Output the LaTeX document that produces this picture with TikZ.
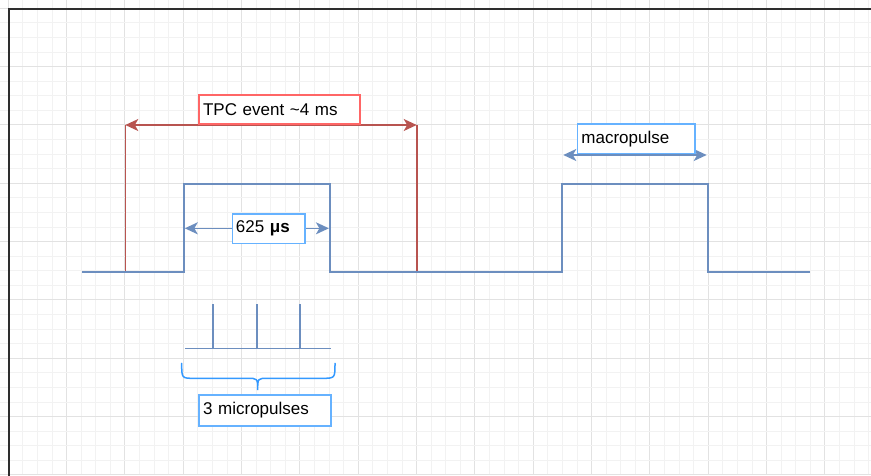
\documentclass[tikz,border=0pt]{standalone}
\usepackage{fontspec}
\setmainfont{Liberation Sans}
\usetikzlibrary{arrows.meta}
\definecolor{sigblue}{HTML}{6C8EBF}
\definecolor{tpcred}{HTML}{B85450}
\definecolor{boxred}{HTML}{FF6666}
\definecolor{boxblue}{HTML}{66B2FF}
\definecolor{braceblue}{HTML}{3399FF}
\definecolor{gridminor}{HTML}{F2F2F2}
\definecolor{gridmajor}{HTML}{E2E2E2}
\definecolor{framecol}{HTML}{2E2E2E}
\tikzset{
  minorline/.style={draw=gridminor, line width=0.9pt},
  majorline/.style={draw=gridmajor, line width=1pt},
  framestyle/.style={draw=framecol, line width=2.4pt},
  sig/.style={draw=sigblue, line width=2pt},
  thinsig/.style={draw=sigblue, line width=1.6pt},
  tpc/.style={draw=tpcred, line width=1.6pt},
  dbl/.style={{Stealth[length=13pt,width=12pt,inset=3.5pt]}-{Stealth[length=13pt,width=12pt,inset=3.5pt]}},
  labelbox/.style={rectangle, fill=white, line width=1.5pt, anchor=north west,
    inner xsep=4pt, inner ysep=0pt, align=left,
    font=\fontsize{17}{20}\selectfont},
  redbox/.style={labelbox, draw=boxred},
  bluebox/.style={labelbox, draw=boxblue},
  bracestyle/.style={draw=braceblue, line width=1.5pt, line cap=round}
}
\begin{document}
\begin{tikzpicture}[x=1pt,y=-1pt]
\useasboundingbox (0,0) rectangle (871,475);
\clip (0,0) rectangle (871,475);
\fill[white] (0,0) rectangle (871,475);
% grid
\foreach \i in {0,...,60} {
  \pgfmathsetmacro{\xx}{8.33+14.583*\i}
  \pgfmathtruncatemacro{\mm}{mod(\i,4)}
  \ifnum\mm=0
    \draw[majorline] (\xx,0) -- (\xx,475);
  \else
    \draw[minorline] (\xx,0) -- (\xx,475);
  \fi
}
\foreach \i in {0,...,33} {
  \pgfmathsetmacro{\yy}{8.33+14.583*\i}
  \pgfmathtruncatemacro{\mm}{mod(\i,4)}
  \ifnum\mm=0
    \draw[majorline] (0,\yy) -- (871,\yy);
  \else
    \draw[minorline] (0,\yy) -- (871,\yy);
  \fi
}
% frame
\coordinate (fa) at (9,490);
\coordinate (fb) at (9,9);
\coordinate (fc) at (890,9);
\draw[framestyle] (fa) -- (fb) -- (fc);

% TPC event lines
\coordinate (ta) at (125.3,271.7);
\coordinate (tb) at (125.3,125);
\coordinate (tc) at (416.7,125);
\coordinate (td) at (416.7,271.7);
\draw[tpc] (ta) -- (tb);
\draw[tpc] (td) -- (tc);
\draw[tpc, dbl, fill=tpcred] (tb) -- (tc);

% signal
\coordinate (s0) at (82,271.7);
\coordinate (r1b) at (184,271.7);
\coordinate (r1t) at (184,184.3);
\coordinate (f1t) at (329.7,184.3);
\coordinate (f1b) at (329.7,271.7);
\coordinate (r2b) at (562.3,271.7);
\coordinate (r2t) at (562.3,184.3);
\coordinate (f2t) at (708,184.3);
\coordinate (f2b) at (708,271.7);
\coordinate (s1) at (810,271.7);
\draw[sig] (s0) -- (r1b) -- (r1t) -- (f1t) -- (f1b) -- (r2b) -- (r2t) -- (f2t) -- (f2b) -- (s1);

% 625 us arrow
\coordinate (pa) at (184.8,228.3);
\coordinate (pb) at (328.9,228.3);
\draw[thinsig, dbl, fill=sigblue] (pa) -- (pb);

% macropulse arrow
\coordinate (ma) at (563.3,155);
\coordinate (mb) at (706.7,155);
\draw[thinsig, dbl, fill=sigblue] (ma) -- (mb);

% micropulses
\coordinate (m0) at (185,348.3);
\coordinate (m1) at (331,348.3);
\coordinate (u1) at (212.7,304);
\coordinate (v1) at (212.7,348.3);
\coordinate (u2) at (256.7,304);
\coordinate (v2) at (256.7,348.3);
\coordinate (u3) at (300,304);
\coordinate (v3) at (300,348.3);
\draw[thinsig] (m0) -- (m1);
\draw[thinsig] (u1) -- (v1);
\draw[thinsig] (u2) -- (v2);
\draw[thinsig] (u3) -- (v3);

% brace
\draw[bracestyle] (181.7,363.3) .. controls (181.7,378.3) .. (194,378.3) -- (247,378.3)
  .. controls (257.7,378.3) .. (257.7,390)
  .. controls (257.7,378.3) .. (268,378.3) -- (322,378.3)
  .. controls (335,378.3) .. (335,363.3);

% labels
\node[redbox, text width=152.7pt, minimum height=29.3pt] (tpclabel) at (198.3,94) {TPC event \char"007E 4 ms};
\node[bluebox, text width=65.3pt, minimum height=29.4pt, inner xsep=3.5pt] (uslabel) at (231.7,213.3) {625 \textbf{μs}};
\node[bluebox, text width=109.3pt, minimum height=29.4pt] (maclabel) at (576.7,123.3) {macropulse};
\node[bluebox, text width=123.7pt, minimum height=30.7pt] (miclabel) at (198.3,394.3) {3 micropulses};
\end{tikzpicture}
\end{document}
